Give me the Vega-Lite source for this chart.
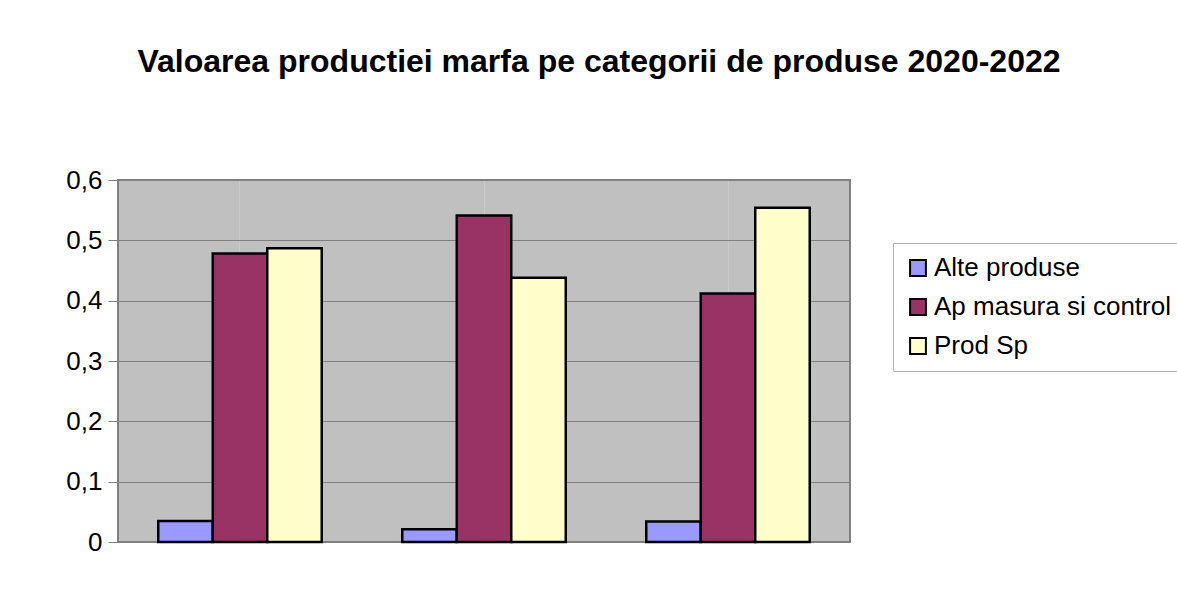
{
  "$schema": "https://vega.github.io/schema/vega-lite/v6.json",
  "width": 732,
  "height": 362,
  "autosize": {"type": "none"},
  "padding": {"left": 118, "top": 180, "right": 327, "bottom": 51},
  "background": "white",
  "title": {
    "text": "Valoarea productiei marfa pe categorii de produse 2020-2022",
    "font": "Liberation Sans",
    "fontSize": 32,
    "fontWeight": "bold",
    "color": "black",
    "anchor": "middle",
    "frame": "group",
    "dx": 115,
    "offset": 88
  },
  "config": {
    "view": {"fill": "#c0c0c0", "stroke": "#808080", "strokeWidth": 2}
  },
  "data": {
    "values": [
      {"an": "2020", "categorie": "Alte produse", "valoare": 0.035},
      {"an": "2020", "categorie": "Ap masura si control", "valoare": 0.478},
      {"an": "2020", "categorie": "Prod Sp", "valoare": 0.487},
      {"an": "2021", "categorie": "Alte produse", "valoare": 0.021},
      {"an": "2021", "categorie": "Ap masura si control", "valoare": 0.541},
      {"an": "2021", "categorie": "Prod Sp", "valoare": 0.438},
      {"an": "2022", "categorie": "Alte produse", "valoare": 0.034},
      {"an": "2022", "categorie": "Ap masura si control", "valoare": 0.412},
      {"an": "2022", "categorie": "Prod Sp", "valoare": 0.554}
    ]
  },
  "mark": {"type": "bar", "stroke": "black", "strokeWidth": 2.5},
  "encoding": {
    "x": {
      "field": "an",
      "type": "nominal",
      "scale": {"paddingInner": 0.33, "paddingOuter": 0.165},
      "axis": {"labels": false, "ticks": false, "domain": false, "title": null, "grid": true, "gridColor": "#cbcbcb", "gridWidth": 1}
    },
    "xOffset": {
      "field": "categorie",
      "type": "nominal",
      "scale": {"paddingInner": 0, "paddingOuter": 0}
    },
    "y": {
      "field": "valoare",
      "type": "quantitative",
      "scale": {"domain": [0, 0.6], "nice": false},
      "axis": {
        "title": null,
        "values": [0, 0.1, 0.2, 0.3, 0.4, 0.5, 0.6],
        "labelExpr": "replace(format(datum.value, '.1~f'), '.', ',')",
        "labelFont": "Liberation Sans",
        "labelFontSize": 26,
        "labelColor": "black",
        "labelPadding": 6,
        "tickSize": 10,
        "tickColor": "#808080",
        "domain": false,
        "grid": true,
        "gridColor": "#808080",
        "gridWidth": 1
      }
    },
    "color": {
      "field": "categorie",
      "type": "nominal",
      "scale": {
        "domain": ["Alte produse", "Ap masura si control", "Prod Sp"],
        "range": ["#9999ff", "#993366", "#ffffcc"]
      },
      "legend": {
        "title": null,
        "orient": "none",
        "legendX": 775,
        "legendY": 63,
        "symbolType": "square",
        "symbolSize": 250,
        "symbolStrokeColor": "black",
        "symbolStrokeWidth": 2,
        "symbolOpacity": 1,
        "labelFont": "Liberation Sans",
        "labelFontSize": 26,
        "labelColor": "black",
        "labelOffset": 3,
        "rowPadding": 13,
        "padding": 12,
        "strokeColor": "#b3b3b3",
        "fillColor": "white",
        "labelLimit": 400
      }
    }
  }
}
